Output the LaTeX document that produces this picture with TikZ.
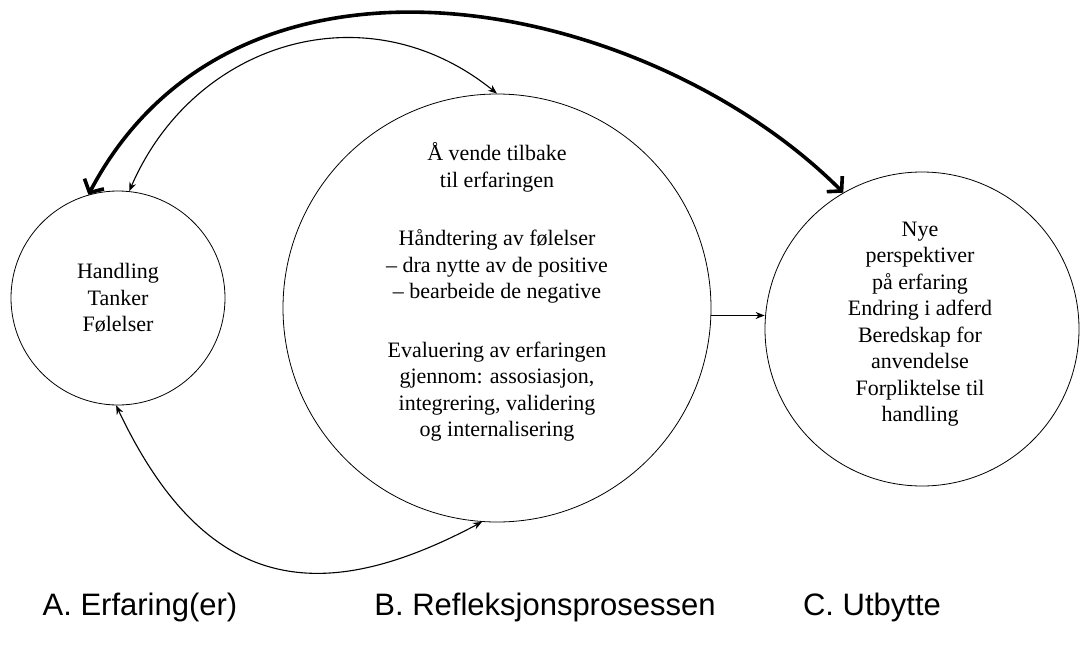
\documentclass[tikz,border=0pt]{standalone}
\usepackage{fontspec}
\setmainfont{Liberation Serif}
\newfontfamily\capfont{Liberation Sans}
\usetikzlibrary{arrows.meta}

\begin{document}
\begin{tikzpicture}[x=1pt,y=-1pt,
    ring/.style={circle,draw,line width=0.8pt,inner sep=0pt},
    ringtext/.style={align=center,font=\fontsize{22}{26.5}\selectfont},
    caption/.style={font=\capfont\fontsize{31}{36}\selectfont},
    link/.style={line width=1.1pt,{Stealth[length=9pt,width=7pt]}-{Stealth[length=9pt,width=7pt]}},
    boldlink/.style={line width=3.6pt,{Straight Barb[length=10pt,width=22pt]}-{Straight Barb[length=10pt,width=22pt]}}]
\useasboundingbox (0,0) rectangle (1081,648);

% the three circles
\node[ring,minimum size=214pt] (a) at (118,298) {};
\node[ring,minimum size=428pt] (b) at (497,308) {};
\node[ring,minimum size=314pt] (c) at (922,329) {};

\node[ringtext] (atext) at (118,298) {Handling\\Tanker\\Følelser};
\node[ringtext] (btext) at (497,292) {Å vende tilbake\\til erfaringen\\[32pt]
    Håndtering av følelser\\– dra nytte av de positive\\– bearbeide de negative\\[32pt]
    Evaluering av erfaringen\\gjennom: assosiasjon,\\integrering, validering\\og internalisering};
\node[ringtext] (ctext) at (920,324) {Nye\\perspektiver\\på erfaring\\Endring i adferd\\Beredskap for\\anvendelse\\Forpliktelse til\\handling};

% captions
\node[caption] (acap) at (140,607) {A. Erfaring(er)};
\node[caption] (bcap) at (545,607) {B. Refleksjonsprosessen};
\node[caption] (ccap) at (872,607) {C. Utbytte};

% connectors
\draw[boldlink] (a.106) .. controls +(150,-285) and +(-193,-193) .. (c.120);
\draw[link] (a.84) .. controls +(65,-150) and +(-130,-105) .. (b.90);
\draw[link] (a.-91) .. controls +(90,190) and +(-160,85) .. (b.-94);
\draw[line width=1.1pt,-{Stealth[length=9pt,width=7pt]}] (b.-2.5) -- (b.-2.5 -| c.west);
\end{tikzpicture}
\end{document}
